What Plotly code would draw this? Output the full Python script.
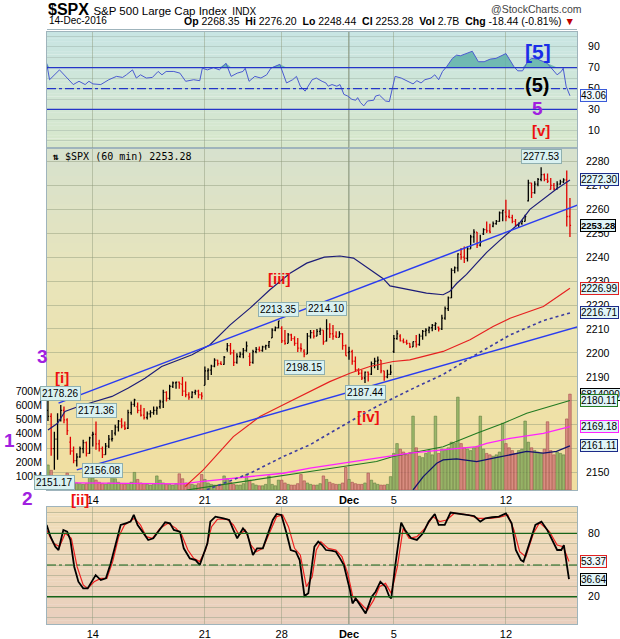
import plotly.graph_objects as go

# ---------------- data ----------------
tick_index = [14, 49, 73, 94, 108, 143]
tick_text = ["14", "21", "28", "<b>Dec</b>", "5", "12"]

opens = [2176.0, 2173.5, 2160.0, 2164.0, 2172.0, 2176.0, 2172.0,
         2162.7, 2159.0, 2155.0, 2156.5, 2160.0, 2162.5, 2158.0,
         2165.6, 2166.0, 2162.0, 2160.0, 2157.5, 2161.0, 2164.0,
         2166.5, 2169.0, 2171.5, 2169.5, 2168.5, 2175.0, 2178.5,
         2177.5, 2176.0, 2174.0, 2173.0, 2174.5, 2175.0, 2176.0,
         2177.5, 2179.5, 2183.5, 2181.0, 2186.0, 2187.5, 2187.8,
         2186.9, 2184.0, 2182.5, 2181.5, 2183.5, 2184.0, 2182.5,
         2186.43, 2192.5, 2192.8, 2194.5, 2197.0, 2195.5, 2195.2,
         2201.56, 2203.0, 2200.0, 2196.0, 2198.5, 2199.5, 2201.0,
         2198.55, 2196.0, 2200.5, 2201.5, 2201.0, 2202.5, 2203.0,
         2206.27, 2209.5, 2210.5,
         2210.21, 2205.0, 2204.0, 2207.5, 2206.0, 2204.0, 2202.0,
         2200.76, 2199.5, 2207.0, 2208.5, 2207.0, 2209.0, 2209.5,
         2204.97, 2210.0, 2208.0, 2207.0, 2206.5, 2208.0, 2203.0,
         2200.17, 2200.5, 2196.5, 2193.0, 2191.5, 2189.5, 2192.0,
         2191.12, 2195.5, 2196.5, 2197.0, 2192.5, 2190.0, 2191.0,
         2200.65, 2206.0, 2207.0, 2205.0, 2204.5, 2204.0, 2202.5,
         2204.71, 2203.5, 2207.0, 2209.0, 2209.5, 2210.5, 2211.5,
         2210.72, 2210.0, 2214.5, 2218.5, 2223.0, 2234.5, 2235.5,
         2241.13, 2240.0, 2239.5, 2243.5, 2248.5, 2250.5, 2245.0,
         2249.73, 2251.5, 2251.0, 2253.0, 2254.0, 2255.0, 2258.5,
         2258.83, 2257.0, 2256.5, 2255.0, 2253.5, 2254.0, 2255.0,
         2263.5, 2271.0, 2267.0, 2270.5, 2272.5, 2274.5, 2272.5,
         2268.35, 2270.0, 2268.5, 2270.5, 2271.5, 2272.3, 2257.0]
highs = [2182.3, 2174.8, 2167.0, 2174.8, 2178.26, 2177.6, 2172.7,
         2165.0, 2160.9, 2158.1, 2160.9, 2163.7, 2163.0, 2165.0,
         2167.0, 2171.36, 2163.7, 2160.9, 2162.3, 2165.7, 2167.8,
         2170.0, 2172.0, 2172.7, 2171.3, 2176.2, 2179.7, 2180.84,
         2179.22, 2178.3, 2177.0, 2175.5, 2176.0, 2177.6, 2177.6,
         2180.4, 2184.6, 2184.0, 2186.7, 2188.06, 2188.0, 2188.0,
         2189.89, 2188.0, 2183.5, 2184.0, 2184.6, 2184.6, 2183.5,
         2194.3, 2193.6, 2195.0, 2197.8, 2197.1, 2196.5, 2198.7,
         2204.1, 2204.1, 2201.3, 2199.9, 2200.5, 2202.0, 2204.8,
         2200.0, 2201.3, 2202.5, 2202.7, 2203.0, 2203.4, 2205.0,
         2210.3, 2211.0, 2213.35,
         2211.14, 2209.6, 2208.3, 2208.0, 2207.0, 2206.2, 2204.0,
         2201.5, 2208.3, 2209.6, 2209.6, 2210.0, 2210.46, 2209.5,
         2214.10, 2212.4, 2211.7, 2209.0, 2209.0, 2208.2, 2203.5,
         2202.6, 2201.3, 2198.5, 2193.6, 2192.9, 2192.2, 2192.2,
         2196.4, 2197.95, 2198.5, 2197.0, 2192.5, 2193.0, 2195.0,
         2207.5, 2209.42, 2207.8, 2206.0, 2205.5, 2204.0, 2204.8,
         2207.5, 2208.0, 2209.6, 2210.3, 2211.0, 2212.1, 2212.78,
         2211.0, 2215.9, 2219.4, 2223.6, 2235.4, 2236.1, 2241.63,
         2243.8, 2244.5, 2244.5, 2249.4, 2251.69, 2250.5, 2249.4,
         2252.1, 2254.9, 2254.0, 2254.9, 2255.5, 2259.1, 2259.8,
         2264.03, 2259.8, 2257.7, 2256.0, 2254.5, 2255.5, 2257.7,
         2272.4, 2271.0, 2271.7, 2273.1, 2277.53, 2275.0, 2275.0,
         2273.1, 2271.0, 2271.7, 2272.4, 2273.0, 2276.2, 2264.7]
lows = [2171.5, 2157.0, 2151.17, 2155.3, 2171.3, 2170.6, 2165.7,
        2157.4, 2153.9, 2152.5, 2156.2, 2158.1, 2156.7, 2157.8,
        2160.9, 2159.5, 2158.8, 2156.08, 2157.4, 2160.2, 2163.0,
        2165.5, 2167.1, 2168.5, 2167.8, 2168.2, 2174.1, 2177.5,
        2174.8, 2173.4, 2172.2, 2172.2, 2173.0, 2174.1, 2174.1,
        2176.65, 2177.0, 2179.7, 2180.4, 2185.3, 2185.0, 2185.0,
        2182.0, 2181.5, 2180.38, 2181.0, 2182.5, 2181.0, 2180.5,
        2186.43, 2188.7, 2190.8, 2194.0, 2194.6, 2195.0, 2195.0,
        2200.5, 2199.2, 2194.51, 2195.5, 2198.0, 2197.8, 2200.5,
        2194.51, 2195.5, 2199.9, 2200.5, 2200.5, 2201.3, 2202.0,
        2206.27, 2209.0, 2210.3,
        2204.1, 2203.4, 2204.0, 2205.0, 2203.0, 2200.36, 2200.5,
        2198.15, 2199.5, 2206.0, 2206.0, 2207.0, 2207.5, 2203.4,
        2204.8, 2206.2, 2205.5, 2206.2, 2206.5, 2201.3, 2198.81,
        2197.1, 2195.0, 2192.2, 2190.8, 2188.7, 2187.44, 2188.0,
        2190.8, 2193.6, 2192.9, 2191.5, 2188.37, 2189.4, 2190.8,
        2199.97, 2205.5, 2204.8, 2204.0, 2203.4, 2202.0, 2202.5,
        2202.21, 2203.0, 2205.5, 2207.0, 2208.2, 2209.0, 2209.6,
        2208.93, 2209.6, 2213.8, 2217.5, 2222.9, 2233.3, 2234.0,
        2238.9, 2237.57, 2238.2, 2243.5, 2246.0, 2243.8, 2244.5,
        2249.23, 2250.1, 2250.0, 2252.5, 2253.5, 2254.8, 2255.0,
        2255.0, 2256.3, 2254.2, 2253.0, 2252.37, 2253.5, 2254.9,
        2263.3, 2264.7, 2266.5, 2269.6, 2271.7, 2271.7, 2271.0,
        2268.3, 2268.0, 2268.3, 2270.3, 2271.0, 2252.8, 2248.44]
closes = [2173.5, 2160.0, 2164.0, 2172.0, 2176.0, 2172.0, 2167.5,
          2159.0, 2155.0, 2156.5, 2160.0, 2162.5, 2158.0, 2164.45,
          2166.0, 2162.0, 2160.0, 2157.5, 2161.0, 2164.0, 2164.2,
          2169.0, 2171.5, 2169.5, 2168.5, 2175.0, 2178.5, 2180.39,
          2176.0, 2174.0, 2173.0, 2174.5, 2175.0, 2176.0, 2176.94,
          2179.5, 2183.5, 2181.0, 2186.0, 2187.5, 2187.8, 2187.12,
          2184.0, 2182.5, 2181.5, 2183.5, 2184.0, 2182.5, 2181.9,
          2192.5, 2192.8, 2194.5, 2197.0, 2195.5, 2195.2, 2198.18,
          2203.0, 2200.0, 2196.0, 2198.5, 2199.5, 2201.0, 2202.94,
          2196.0, 2200.5, 2201.5, 2201.0, 2202.5, 2203.0, 2204.72,
          2209.5, 2210.5, 2213.35,
          2205.0, 2204.0, 2207.5, 2206.0, 2204.0, 2202.0, 2201.72,
          2199.5, 2207.0, 2208.5, 2207.0, 2209.0, 2209.5, 2204.66,
          2210.0, 2208.0, 2207.0, 2206.5, 2208.0, 2203.0, 2198.81,
          2200.5, 2196.5, 2193.0, 2191.5, 2189.5, 2192.0, 2191.08,
          2195.5, 2196.5, 2197.0, 2192.5, 2190.0, 2191.0, 2191.95,
          2206.0, 2208.0, 2205.0, 2204.5, 2204.0, 2202.5, 2204.71,
          2203.5, 2207.0, 2209.0, 2209.5, 2210.5, 2211.5, 2212.23,
          2210.0, 2214.5, 2218.5, 2223.0, 2234.5, 2235.5, 2241.35,
          2240.0, 2239.5, 2243.5, 2248.5, 2250.5, 2245.0, 2246.19,
          2251.5, 2251.0, 2250.5, 2254.0, 2255.0, 2258.5, 2259.53,
          2257.0, 2256.5, 2255.0, 2253.5, 2254.0, 2255.0, 2256.96,
          2271.0, 2267.0, 2270.5, 2272.5, 2274.5, 2272.5, 2271.72,
          2270.0, 2268.5, 2270.5, 2271.5, 2272.3, 2257.0, 2253.28]
volume_m = [178, 140, 95, 80, 70, 60, 120,
            80, 60, 50, 45, 40, 45, 125,
            85, 70, 55, 45, 40, 50, 110,
            80, 55, 45, 40, 45, 55, 125,
            75, 50, 45, 40, 35, 45, 100,
            70, 50, 40, 40, 35, 45, 115,
            80, 50, 45, 40, 35, 45, 110,
            75, 50, 40, 35, 35, 40, 100,
            80, 55, 40, 35, 35, 45, 110,
            70, 45, 35, 30, 30, 40, 100,
            40, 30, 70,
            70, 50, 40, 35, 35, 45, 110,
            65, 50, 40, 35, 35, 45, 100,
            75, 55, 45, 40, 40, 50, 160,
            75, 55, 45, 40, 40, 50, 120,
            70, 50, 40, 35, 35, 40, 95,
            260, 330, 290, 270, 250, 265, 525,
            300, 240, 230, 260, 280, 250, 525,
            260, 290, 285, 300, 340, 330, 660,
            330, 300, 290, 280, 300, 310, 525,
            290, 260, 250, 240, 250, 270, 475,
            330, 300, 280, 260, 280, 290, 490,
            340, 300, 280, 270, 260, 290, 485,
            280, 250, 270, 260, 250, 505, 681.4]

# overlay lines (bar position, value)
ma_navy_x = [0, 3, 5.3, 9.5, 14.7, 20, 25.1, 30.3, 35.5, 40.7, 45, 50.6, 56.9, 63.1, 69.3, 75.6, 80.8,
             86.3, 91.2, 95.4, 100.6, 104.7, 106.8, 113, 118.2, 123.4, 125.5, 127.6, 130.7, 133.9, 137,
             141.1, 144.3, 147.4, 150.5, 154.7, 158.8, 163]
ma_navy_y = [2167.8, 2170.6, 2175.5, 2177.6, 2179.7, 2181.8, 2185.3, 2189.4, 2194.3, 2197.1, 2199.2,
             2203.4, 2211.7, 2218.7, 2226.4, 2233.3, 2237.5, 2240.0, 2240.5, 2239.6, 2234.7, 2231.0,
             2228.0, 2226.4, 2225.0, 2224.3, 2225.7, 2229.0, 2232.8, 2237.5, 2242.0, 2247.0, 2251.0,
             2254.5, 2260.0, 2264.5, 2268.5, 2272.30]
ma_red_x = [42.8, 48.5, 57.9, 66.2, 73.5, 81.8, 88, 94.3, 100.5, 107.8, 113, 123.4, 131.8, 139, 144.3,
            154.7, 163]
ma_red_y = [2144.1, 2151.1, 2165.0, 2173.4, 2178.3, 2183.8, 2188.0, 2191.5, 2194.3, 2196.4, 2197.1,
            2200.6, 2205.5, 2211.0, 2214.5, 2219.4, 2226.99]
ma_dot_x = [49.6, 63.1, 73.5, 81.8, 94.3, 102.6, 113, 123.4, 133.9, 144.3, 154.7, 163]
ma_dot_y = [2142.8, 2149.7, 2156.7, 2161.6, 2171.3, 2177.6, 2184.5, 2191.0, 2199.5, 2207.5, 2213.5,
            2216.71]
ma_green_x = [43.3, 57, 73.5, 81.8, 92.2, 102.6, 107.8, 113, 123.4, 133.9, 142.2, 149.5, 156.8, 163]
ma_green_y = [2142.7, 2145.5, 2149.0, 2150.4, 2152.5, 2154.6, 2156.7, 2158.1, 2160.8, 2166.4, 2170.6,
              2174.8, 2177.6, 2180.11]
ma_mag_x = [0, 20, 42, 47.6, 58, 73.5, 81.8, 92.2, 102.6, 113, 123.4, 133.9, 137, 144.3, 154.7, 163]
ma_mag_y = [2145.8, 2145.6, 2145.3, 2146.2, 2147.6, 2149.7, 2151.8, 2154.0, 2156.0, 2158.1, 2159.5,
            2160.8, 2162.2, 2164.3, 2166.4, 2169.18]
ma_nb_x = [114, 117.2, 121.4, 123.4, 127.6, 133.9, 139.1, 144.3, 149.5, 154.7, 158.8, 163]
ma_nb_y = [2142.7, 2148.3, 2153.9, 2155.3, 2155.7, 2154.6, 2156.0, 2157.4, 2158.8, 2158.1, 2158.8,
           2161.11]
chan_up_x = [3.3, 176.5]
chan_up_y = [2179.0, 2267.5]
chan_lo_x = [9.0, 178.6]
chan_lo_y = [2151.1, 2215.9]

rsi_x = [-0.4, 0.5, 3.6, 7.9, 9.7, 11.6, 12.8, 14.05, 16.5, 19, 21.4, 23.3, 24.5, 26.4, 27.6, 28.9, 30.7,
         32.6, 34.4, 35.6, 36.9, 39.3, 41.2, 43, 45.5, 47.4, 48.2, 49.8, 51.7, 53.5, 55.6, 57.2, 59.1,
         60.9, 61.6, 62.8, 64.6, 66.5, 68.3, 69.6, 72.4, 74.5, 76.4, 77.6, 78.8, 80.3, 82.5, 83.8, 85.6,
         86.8, 87.5, 88.7, 90.2, 91.2, 92.4, 93.6, 94.9, 96.1, 96.7, 97.6, 98.6, 99.8, 101.7, 102.3,
         103.5, 105.4, 106.6, 107.2, 108.4, 110.3, 112.1, 114, 115.2, 116.5, 117.7, 119.6, 120.8, 122,
         123.2, 124.5, 126.3, 127.6, 128.8, 130, 132.5, 134.4, 136.2, 138.1, 139.9, 143, 144.2, 145.5,
         146.7, 148.2, 149.8, 151, 152.9, 155.9, 159, 160.3, 160.9, 161.8, 163]
rsi_v = [74.1, 58.4, 67.8, 53.8, 56.9, 53.8, 56.9, 54.4, 53.8, 58.4, 61.6, 60.6, 63.1, 67.8, 60, 63.1,
         60, 60.6, 66.3, 63.1, 66.3, 66.3, 64.7, 56.9, 58.4, 57.5, 69.4, 67.8, 70, 67.8, 74.1, 61.6,
         64.7, 66.3, 69.4, 56.9, 61.6, 60, 63.1, 69.4, 73.1, 55.3, 58.4, 61.6, 52.2, 47.5, 58.4, 60,
         56.9, 55.3, 52.2, 53.8, 52.2, 53.8, 44.4, 42.8, 39.7, 38.8, 41.3, 36.6, 33.4, 38.1, 38.8, 42.8,
         43.8, 38.1, 37.5, 45.9, 61.6, 60, 56.9, 54.4, 57.5, 55.3, 58.4, 60, 63.1, 58.4, 66.3, 70.9,
         78.8, 81.9, 81.3, 82.5, 85.6, 75.6, 75.6, 78.1, 78.8, 83.4, 77.2, 70.9, 66.9, 66.9, 75.6,
         78.8, 78.1, 74.1, 63.1, 66.3, 69.4, 52.2, 43.06]

stk_x = [-0.4, 0.8, 2.3, 3.3, 4.8, 6, 7, 8.2, 9.5, 11, 12.4, 13.7, 14.9, 16.5, 18.1, 19.6, 21.1, 22.7,
         24.3, 25.8, 26.8, 28, 29.5, 31.3, 32.9, 34.4, 36.6, 38.1, 39.3, 41.2, 42.4, 44.3, 46.1, 47.4,
         48.6, 49.8, 50.7, 52.3, 54.8, 56.6, 57.9, 59.1, 60.9, 62.2, 64, 65.3, 67.1, 68.3, 70.2, 71.4,
         72.9, 74.5, 75.8, 77.4, 78.6, 80.1, 81.3, 83.2, 84.4, 85.6, 86.8, 88.5, 89.9, 91.2, 92.4, 94.3,
         95.1, 96.1, 97.6, 99.2, 101.1, 102.3, 103.8, 105.4, 106.6, 107.2, 108.4, 110.3, 111.5, 113.4,
         115.2, 117.1, 118.9, 120.8, 122, 123.9, 125.7, 128.2, 131.3, 133.1, 135, 136.6, 138.7, 140.8,
         143, 144.8, 146.1, 147.7, 148.5, 150.4, 152.2, 154.1, 155.9, 159, 160.3, 161.1, 162.7]
stk_k = [87.9, 76.8, 67.4, 64.2, 83.2, 81.6, 73.7, 48.4, 34.2, 27.9, 27.9, 34.2, 40.5, 35.8, 37.4, 51.6,
         70.5, 87.9, 89.5, 91.1, 97.4, 87.9, 81.6, 73.7, 75.3, 81.6, 90.4, 89.5, 83.2, 81.6, 65.8, 56.3,
         54.7, 50, 61.1, 70.5, 91.1, 95.8, 94.2, 92.6, 83.2, 75.3, 84.7, 80, 59.5, 65.8, 65.8, 76.8,
         92.6, 98.3, 97.4, 80, 64.2, 62.6, 54.7, 20.6, 23.2, 67.4, 72.1, 68.9, 64.2, 63.6, 62.6, 56.3,
         50, 26.3, 13.7, 18.4, 12.1, 4.2, 20, 24.7, 34.2, 29.5, 20, 18.4, 48.4, 90.1, 83.2, 75.3, 73.7,
         80, 91.1, 98.3, 87.9, 87.9, 99.6, 98.3, 97.4, 96.4, 91.1, 94.2, 95.2, 95.8, 98.9, 89.5, 64.2,
         54.7, 53.2, 70.5, 87.9, 91.1, 83.2, 64.2, 64.2, 68.9, 36.64]
std_x = [-0.4, 1.7, 3.6, 5.4, 7.3, 9.1, 11, 12.4, 14.4, 16.5, 18.4, 20.2, 22.1, 23.9, 27, 28.9, 30.7,
         32.6, 35, 37.5, 40, 41.8, 43.7, 45.5, 47.4, 49.2, 51.1, 52.9, 56, 57.9, 59.7, 61.6, 63.4, 65,
         67.1, 69.6, 71.4, 73.3, 75.1, 77, 78.8, 80.7, 82.5, 83.8, 85.2, 87.5, 89.9, 91.8, 93.6, 95.2,
         96.7, 98.6, 99.8, 101.7, 103.5, 105.4, 107.2, 109.1, 110.9, 112.8, 115.2, 117.7, 120.2, 122.3,
         124.5, 126.9, 131.3, 134.4, 138.1, 141.1, 143.6, 145.5, 147.3, 149.2, 151.6, 153.5, 156.6, 159,
         160.9, 162.7]
std_d = [83.2, 70.5, 67.4, 80, 75.3, 48.4, 31.1, 27.9, 34.2, 37.4, 37.4, 53.2, 76.8, 87.9, 94.2, 87.9,
         76.8, 75.3, 84.7, 89.5, 84.7, 78.4, 64.2, 56.3, 53.2, 64.2, 86.3, 93.3, 93.3, 87.9, 78.4, 83.2,
         68.9, 62.6, 65.8, 83.2, 95.8, 97.4, 86.3, 65.8, 59.5, 29.5, 38.9, 64.2, 72.1, 65.8, 64.2, 57.9,
         42.1, 20, 16.8, 10.5, 7.4, 16.8, 29.5, 32.6, 23.2, 48.4, 84.7, 75.3, 76.8, 84.7, 95.8, 91.1,
         92.6, 99, 97.4, 94.2, 94.2, 95.2, 97.4, 83.2, 62.6, 57.9, 80, 90.1, 81.6, 68.9, 67.4, 53.37]

# ---------------- layout helpers ----------------
W, H = 620, 639
ML, MR, MT, MB = 47, 43, 32, 15
PW, PH = W - ML - MR, H - MT - MB


def pxx(x):
    return (x - ML) / PW


def pxy(y):
    return 1 - (y - MT) / PH


rsi_dom = [pxy(148.3), 1.0]
main_dom = [pxy(490), pxy(148.3)]
sto_dom = [0.0, pxy(507)]
XR = [-0.3, 165.2]
FONT = "Liberation Sans, Arial, sans-serif"

n = len(closes)
up = [i for i in range(n) if i == 0 or closes[i] >= closes[i - 1]]
dn = [i for i in range(n) if not (i == 0 or closes[i] >= closes[i - 1])]

fig = go.Figure()

# volume (base axis of main panel)
fig.add_trace(go.Bar(x=up, y=[volume_m[i] for i in up], xaxis="x2", yaxis="y2",
                     marker=dict(color="rgba(140,175,95,0.85)", line=dict(color="rgba(90,120,60,0.9)", width=0.6)),
                     width=0.8, showlegend=False))
fig.add_trace(go.Bar(x=dn, y=[volume_m[i] for i in dn], xaxis="x2", yaxis="y2",
                     marker=dict(color="rgba(210,120,120,0.8)", line=dict(color="rgba(160,70,70,0.9)", width=0.6)),
                     width=0.8, showlegend=False))


def line(x, y, color, width=1, dash="solid", ax=("x2", "y3")):
    fig.add_trace(go.Scatter(x=x, y=y, mode="lines", xaxis=ax[0], yaxis=ax[1],
                             line=dict(color=color, width=width, dash=dash), showlegend=False,
                             hoverinfo="skip"))


line(ma_green_x, ma_green_y, "#217a21", 1.1)
line(ma_mag_x, ma_mag_y, "#ff22ff", 1.3)
line(ma_nb_x, ma_nb_y, "#14146e", 1.3)
line(ma_dot_x, ma_dot_y, "#3c3ca0", 1.6, "dot")
line(ma_red_x, ma_red_y, "#e62020", 1.2)
line(ma_navy_x, ma_navy_y, "#1c1c78", 1.2)
line(chan_up_x, chan_up_y, "#2a3cf0", 1.5)
line(chan_lo_x, chan_lo_y, "#2a3cf0", 1.5)

for idx, col in ((up, "black"), (dn, "#e00000")):
    fig.add_trace(go.Ohlc(x=idx, open=[opens[i] for i in idx], high=[highs[i] for i in idx],
                          low=[lows[i] for i in idx], close=[closes[i] for i in idx],
                          xaxis="x2", yaxis="y3", tickwidth=0.35,
                          increasing=dict(line=dict(color=col, width=1.3)),
                          decreasing=dict(line=dict(color=col, width=1.3)),
                          showlegend=False, hoverinfo="skip"))

# RSI
rsi_top = [max(v, 70) for v in rsi_v]
line(rsi_x, [70] * len(rsi_x), "rgba(0,0,0,0)", 0, ax=("x3", "y4"))
fig.add_trace(go.Scatter(x=rsi_x, y=rsi_top, mode="lines", xaxis="x3", yaxis="y4", fill="tonexty",
                         fillcolor="rgba(95,178,170,0.85)", line=dict(width=0, color="rgba(0,0,0,0)"),
                         showlegend=False, hoverinfo="skip"))
line(rsi_x, rsi_v, "#4a5ad0", 1.0, ax=("x3", "y4"))

# Stochastics
line(std_x, std_d, "#ee2020", 1.2, ax=("x", "y"))
line(stk_x, stk_k, "black", 1.8, ax=("x", "y"))

# ---------------- backgrounds ----------------
shapes = []


def gradient(yref, stops, nstrip=36):
    for k in range(nstrip):
        t = (k + 0.5) / nstrip
        for j in range(len(stops) - 1):
            if stops[j][0] <= t <= stops[j + 1][0]:
                a, b = stops[j], stops[j + 1]
                f = (t - a[0]) / (b[0] - a[0])
                c = [round(a[1][m] + (b[1][m] - a[1][m]) * f) for m in range(3)]
                break
        shapes.append(dict(type="rect", xref="paper", yref=yref, x0=0, x1=1,
                           y0=1 - (k + 1) / nstrip, y1=1 - k / nstrip + 0.002,
                           fillcolor="rgb(%d,%d,%d)" % tuple(c), line=dict(width=0), layer="below"))


gradient("y4 domain", [(0, (200, 229, 227)), (1, (216, 231, 203))])
gradient("y2 domain", [(0, (214, 225, 206)), (0.35, (231, 228, 188)), (0.7, (238, 226, 170)),
                        (1, (241, 222, 160))])
gradient("y domain", [(0, (240, 222, 184)), (1, (233, 207, 190))])

# level lines
for v in (70, 30):
    shapes.append(dict(type="line", xref="x3 domain", yref="y4", x0=0, x1=1, y0=v, y1=v,
                       line=dict(color="#2436c8", width=1.3)))
shapes.append(dict(type="line", xref="x3 domain", yref="y4", x0=0, x1=1, y0=50, y1=50,
                   line=dict(color="#2436c8", width=1.2, dash="dashdot")))
for v in (80, 20):
    shapes.append(dict(type="line", xref="x domain", yref="y", x0=0, x1=1, y0=v, y1=v,
                       line=dict(color="#17641a", width=1.3)))
shapes.append(dict(type="line", xref="x domain", yref="y", x0=0, x1=1, y0=50, y1=50,
                   line=dict(color="#17641a", width=1.2, dash="dashdot")))
# darker month separator
for xr, yr in (("x", "y domain"), ("x2", "y2 domain"), ("x3", "y4 domain")):
    shapes.append(dict(type="line", xref=xr, yref=yr, x0=tick_index[3], x1=tick_index[3], y0=0, y1=1,
                       line=dict(color="rgba(110,125,110,0.7)", width=1), layer="below"))
# header separator line
shapes.append(dict(type="line", xref="paper", yref="paper", x0=0, x1=1, y0=pxy(29.5), y1=pxy(29.5),
                   line=dict(color="#9fb4bc", width=1)))

# ---------------- annotations ----------------
ann = []


def text(x, y, s, size=11, color="black", bold=False, xanchor="center", family=FONT):
    ann.append(dict(xref="paper", yref="paper", x=pxx(x), y=pxy(y), text=("<b>%s</b>" % s) if bold else s,
                    showarrow=False, xanchor=xanchor, yanchor="middle",
                    font=dict(size=size, color=color, family=family)))


text(46, 9, "<b>$SPX</b> <span style='font-size:11.5px'>S&amp;P 500 Large Cap Index</span>"
            "<span style='font-size:10px'>  INDX</span>", size=16, xanchor="left")
text(584, 9, "@StockCharts.com", size=10.5, color="#444", xanchor="right")
text(47, 21, "14-Dec-2016", size=10, xanchor="left")
text(577, 21, "<b>Op</b> 2268.35  <b>Hi</b> 2276.20  <b>Lo</b> 2248.44  <b>Cl</b> 2253.28  "
              "<b>Vol</b> 2.7B  <b>Chg</b> -18.44 (-0.81%) <span style='color:#c00000'>▼</span>",
     size=10.5, xanchor="right")
text(50, 156, "<b>⇅</b> $SPX (60 min) 2253.28", size=10, xanchor="left", family="DejaVu Sans Mono, monospace")

# wave labels
text(538, 51, "[5]", size=21, color="#1a2ee8", bold=True)
text(537, 85, "(5)", size=20, color="black", bold=True)
text(537, 108, "5", size=19, color="#a020e0", bold=True)
text(541, 130, "[v]", size=15, color="#ee1010", bold=True)
text(279, 278, "[iii]", size=15, color="#ee1010", bold=True)
text(62, 377, "[i]", size=15, color="#ee1010", bold=True)
text(368, 416, "[iv]", size=15, color="#ee1010", bold=True)
text(80, 499, "[ii]", size=15, color="#ee1010", bold=True)
text(42, 356, "3", size=19, color="#a020e0", bold=True)
text(9, 440, "1", size=19, color="#a020e0", bold=True)
text(27, 498, "2", size=19, color="#a020e0", bold=True)

# swing-point labels
swings = [(highs, 2178.26, 11), (highs, 2171.36, 11), (lows, 2156.08, -13), (lows, 2151.17, -13),
          (highs, 2213.35, 11), (highs, 2214.10, 11), (lows, 2198.15, -10), (lows, 2187.44, -10),
          (highs, 2277.53, 11)]
for arr, v, sh in swings:
    ann.append(dict(xref="x2", yref="y3", x=arr.index(v), y=v, yshift=sh, text="%.2f" % v,
                    showarrow=False, bgcolor="#d9f1f1", bordercolor="#8fb0b0", borderwidth=1, borderpad=1,
                    font=dict(size=10, color="black", family=FONT)))


# right-edge value tags
def tag(yref, v, s, border, bold=False, bg="#dff4f8", size=10):
    ann.append(dict(xref="paper", yref=yref, x=1 + 3 / PW, y=v, xanchor="left", yanchor="middle",
                    text=("<b>%s</b>" % s) if bold else s, showarrow=False, bgcolor=bg,
                    bordercolor=border, borderwidth=1, borderpad=0,
                    font=dict(size=size, color="black", family=FONT)))


tag("y4", 43.06, "43.06", "#3a5ad8", bg="#eef8fb")
tag("y3", 2272.30, "2272.30", "#1c2a88")
tag("y3", 2253.28, "2253.28", "black", bold=True, size=9.5)
tag("y3", 2226.99, "2226.99", "#e02020")
tag("y3", 2216.71, "2216.71", "#1c2a88")
tag("y2", 681.4, "6814090", "black")
tag("y3", 2180.11, "2180.11", "#217a21")
tag("y3", 2169.18, "2169.18", "#ff22ff")
tag("y3", 2161.11, "2161.11", "#1c2a88")
tag("y", 53.37, "53.37", "#e02020", bg="#eef8fb")
tag("y", 36.64, "36.64", "black")

border = "#9fb4bc"
grid = "rgba(140,150,120,0.45)"
xcommon = dict(range=XR, tickvals=tick_index, ticktext=tick_text, showgrid=True, gridcolor=grid,
               gridwidth=1, zeroline=False, showline=True, mirror=True, linecolor=border, automargin=False,
               tickfont=dict(size=11, family=FONT, color="black"), ticks="")
ycommon = dict(zeroline=False, showline=True, mirror=True, linecolor=border, ticks="", automargin=False,
               tickfont=dict(size=10.5, family=FONT, color="black"))

fig.update_layout(
    width=W, height=H, margin=dict(l=ML, r=MR, t=MT, b=MB, autoexpand=False),
    paper_bgcolor="white", plot_bgcolor="rgba(0,0,0,0)", showlegend=False, barmode="overlay",
    bargap=0.2, dragmode=False, hovermode=False,
    xaxis=dict(**xcommon, anchor="y", showticklabels=True),
    yaxis=dict(**ycommon, domain=sto_dom, range=[-5.8, 104.9], tickvals=[20, 50, 80], ticktext=["20", "", "80"],
               side="right", showgrid=False, minor=dict(dtick=10, tick0=0, showgrid=True, gridcolor=grid),
               ticklabelstandoff=8),
    xaxis2=dict(**xcommon, anchor="y2", showticklabels=True, rangeslider=dict(visible=False)),
    yaxis2=dict(**ycommon, domain=main_dom, range=[0, 2428.6], side="left",
                tickvals=[100, 200, 300, 400, 500, 600, 700],
                ticktext=["100M", "200M", "300M", "400M", "500M", "600M", "700M"], showgrid=False,
                ticklabelstandoff=2),
    yaxis3=dict(overlaying="y2", anchor="x2", side="right", range=[2142.7, 2285.5], dtick=10, tick0=2150,
                showgrid=True, gridcolor=grid, zeroline=False, ticks="", ticklabelstandoff=8, automargin=False,
                tickfont=dict(size=10.5, family=FONT, color="black")),
    xaxis3=dict(**xcommon, anchor="y4", showticklabels=False),
    yaxis4=dict(**ycommon, domain=rsi_dom, range=[-7.1, 104.0], tickvals=[10, 30, 50, 70, 90], side="right",
                showgrid=False, minor=dict(dtick=10, tick0=0, showgrid=True, gridcolor="rgba(140,160,150,0.35)"),
                ticklabelstandoff=8),
    shapes=shapes, annotations=ann,
)

page_fix = ("document.documentElement.style.margin='0';document.documentElement.style.padding='0';"
            "document.documentElement.style.overflow='hidden';"
            "document.body.style.margin='0';document.body.style.padding='0';document.body.style.overflow='hidden';"
            "document.querySelectorAll('.svg-container').forEach(function(e){e.style.overflow='hidden';});")
fig.write_html("out.html", config={"displayModeBar": False}, post_script=page_fix)
